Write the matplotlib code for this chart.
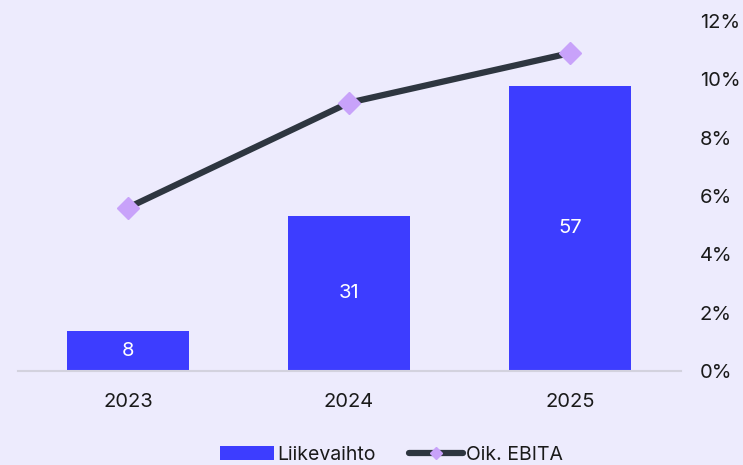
import matplotlib.pyplot as plt
import numpy as np

plt.rcParams['font.family'] = ['Inter', 'DejaVu Sans']

years = ["2023", "2024", "2025"]
liikevaihto = [8, 31, 57]
ebita_pct = [5.6, 9.2, 10.9]
pct_ticks = [0, 2, 4, 6, 8, 10, 12]

bg = "#EDEBFD"
bar_color = "#3D3DFF"
line_color = "#2E3640"
marker_color = "#C8A2FA"
fs = 14.5

fig = plt.figure(figsize=(7.43, 4.65), dpi=100, facecolor=bg)
ax = fig.add_axes([0.0236, 0.2022, 0.8923, 0.7526])
ax.set_facecolor(bg)

x = np.arange(len(years))
bars = ax.bar(x, liikevaihto, width=0.55, color=bar_color, label="Liikevaihto", zorder=2)
for xi, v in zip(x, liikevaihto):
    ax.text(xi, v / 2, str(v), ha="center", va="center", color="white", fontsize=fs)

ax.set_xlim(-0.5, 2.5)
ax.set_ylim(0, 70)
ax.set_xticks(x)
ax.set_xticklabels(years, fontsize=fs, color="#1a1a1a")
ax.tick_params(axis="x", length=0, pad=16)
ax.set_yticks([])
for side in ["top", "left", "right"]:
    ax.spines[side].set_visible(False)
ax.spines["bottom"].set_color("#D3D2DE")
ax.spines["bottom"].set_linewidth(1.5)

ax2 = ax.twinx()
line, = ax2.plot(x, ebita_pct, color=line_color, linewidth=4.5, marker="D",
                 markersize=11, markerfacecolor=marker_color, markeredgecolor=marker_color,
                 label="Oik. EBITA", zorder=3, solid_capstyle="round")
ax2.set_ylim(0, 12)
ax2.set_yticks(pct_ticks)
ax2.set_yticklabels([f"{t}%" for t in pct_ticks], fontsize=fs, color="#1a1a1a")
ax2.tick_params(axis="y", length=0, pad=14)
for side in ["top", "left", "right", "bottom"]:
    ax2.spines[side].set_visible(False)

leg_line, = ax.plot([], [], color=line_color, linewidth=4.5, marker="D", markersize=6,
                    markerfacecolor=marker_color, markeredgecolor=marker_color,
                    solid_capstyle="round")
fig.legend([bars, leg_line], ["Liikevaihto", "Oik. EBITA"], loc="center",
           bbox_to_anchor=(0.527, 0.022), ncol=2, frameon=False, fontsize=14,
           handlelength=2.8, handleheight=0.7, handletextpad=0.15, columnspacing=1.7,
           labelcolor="#1a1a1a")

fig.savefig("out.png", dpi=100, facecolor=bg)
